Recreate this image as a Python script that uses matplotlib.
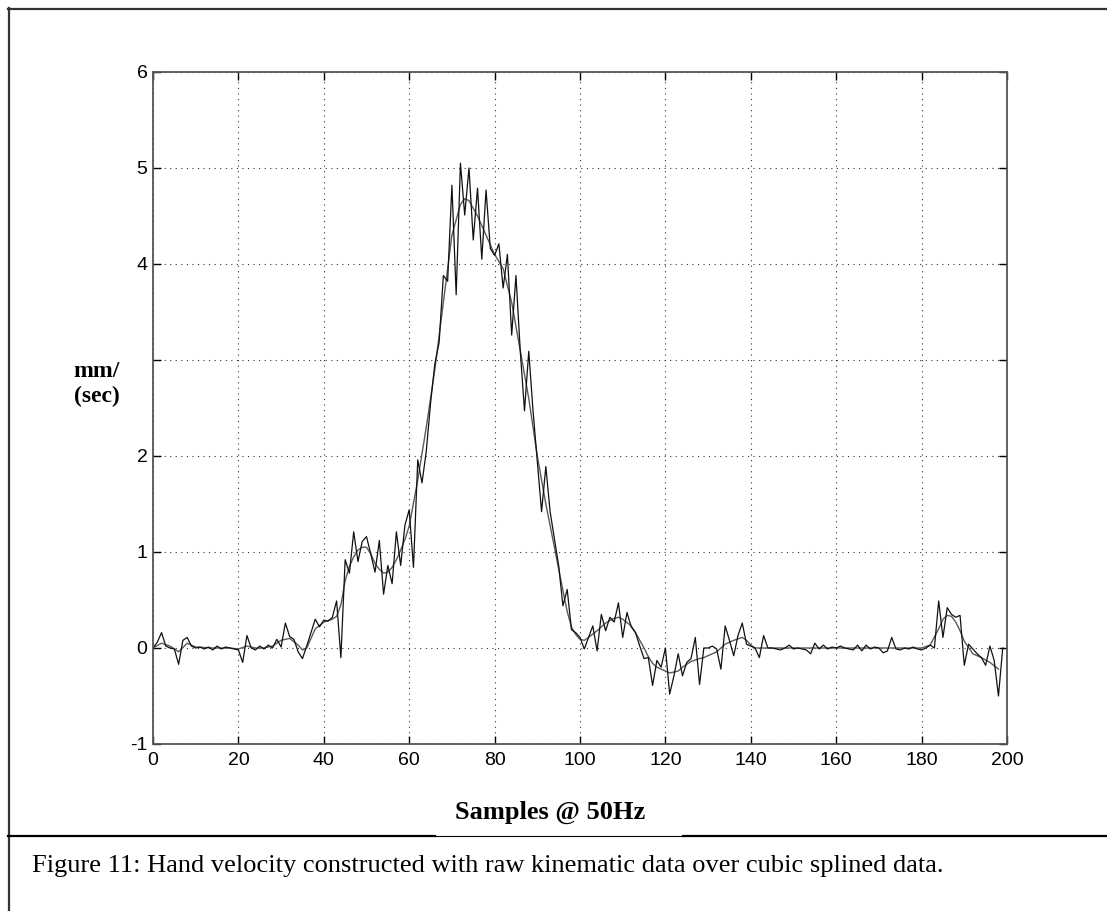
import numpy as np
import matplotlib
matplotlib.use("Agg")
import matplotlib.pyplot as plt
from matplotlib.lines import Line2D

# raw hand velocity, one value per sample (mm/sec)
raw_vel = [
    0.00, 0.06, 0.16, 0.02, 0.00, -0.01, -0.17, 0.08, 0.11, 0.02,
    0.00, 0.01, -0.01, 0.01, -0.02, 0.02, -0.01, 0.01, 0.00, -0.01,
    -0.02, -0.15, 0.13, 0.00, -0.02, 0.02, -0.01, 0.03, 0.00, 0.09,
    0.01, 0.26, 0.12, 0.09, -0.04, -0.11, 0.02, 0.16, 0.30, 0.22,
    0.29, 0.28, 0.32, 0.49, -0.10, 0.92, 0.78, 1.21, 0.90, 1.11,
    1.16, 0.98, 0.79, 1.12, 0.56, 0.86, 0.67, 1.21, 0.86, 1.28,
    1.44, 0.84, 1.96, 1.72, 2.05, 2.55, 2.96, 3.18, 3.88, 3.82,
    4.82, 3.68, 5.05, 4.51, 5.00, 4.25, 4.79, 4.05, 4.77, 4.16,
    4.09, 4.21, 3.75, 4.10, 3.26, 3.88, 3.10, 2.47, 3.09, 2.47,
    1.95, 1.42, 1.89, 1.42, 1.14, 0.86, 0.44, 0.61, 0.19, 0.16,
    0.11, -0.01, 0.11, 0.23, -0.03, 0.35, 0.18, 0.32, 0.27, 0.47,
    0.11, 0.37, 0.22, 0.16, 0.02, -0.11, -0.10, -0.39, -0.13, -0.20,
    0.00, -0.48, -0.29, -0.06, -0.29, -0.15, -0.11, 0.11, -0.38, 0.00,
    0.00, 0.02, -0.01, -0.22, 0.23, 0.08, -0.08, 0.13, 0.26, 0.04,
    0.02, 0.00, -0.10, 0.13, 0.00, 0.00, -0.01, -0.02, 0.00, 0.03,
    -0.01, 0.00, -0.01, -0.02, -0.06, 0.05, -0.01, 0.03, -0.01, 0.01,
    0.00, 0.02, 0.00, -0.01, -0.02, 0.03, -0.03, 0.03, -0.01, 0.01,
    0.00, -0.05, -0.03, 0.11, -0.01, -0.02, 0.00, -0.01, 0.01, -0.01,
    -0.02, 0.00, 0.03, 0.00, 0.49, 0.11, 0.42, 0.35, 0.32, 0.34,
    -0.18, 0.04, -0.01, -0.06, -0.10, -0.18, 0.02, -0.13, -0.50, 0.00,
]
raw_x = np.arange(len(raw_vel))

# cubic splined curve
spline_x = [0, 2, 4, 6, 8, 10, 14, 18, 20, 22, 24, 26, 28, 30, 32, 34, 35, 36,
            38, 40, 42, 43, 44, 45, 46, 47, 48, 49, 50, 51, 52, 53, 54, 55, 56,
            57, 58, 59, 60, 62, 64, 66, 68, 70, 72, 73, 74, 76, 78, 80, 82, 84,
            86, 88, 90, 92, 94, 96, 97, 98, 99, 100, 101, 102, 104, 106, 108,
            109, 110, 112, 113, 114, 115, 116, 117, 118, 120, 121, 122, 123,
            124, 126, 128, 129, 130, 132, 134, 136, 138, 139, 140, 141, 142,
            144, 150, 160, 170, 180, 182, 184, 185, 186, 187, 188, 189, 190,
            192, 194, 196, 198]
spline_vel = [0.0, 0.05, 0.02, -0.04, 0.05, 0.01, 0.0, 0.0, -0.01, 0.02, 0.0,
              0.0, 0.02, 0.08, 0.1, 0.03, -0.02, 0.0, 0.2, 0.27, 0.3, 0.33,
              0.45, 0.7, 0.85, 0.95, 1.02, 1.05, 1.05, 0.98, 0.88, 0.82, 0.78,
              0.79, 0.84, 0.92, 1.02, 1.13, 1.27, 1.75, 2.3, 2.9, 3.6, 4.3,
              4.62, 4.68, 4.66, 4.5, 4.3, 4.1, 3.95, 3.6, 3.1, 2.6, 2.0, 1.5,
              1.05, 0.6, 0.38, 0.22, 0.14, 0.09, 0.08, 0.11, 0.18, 0.26, 0.31,
              0.32, 0.3, 0.23, 0.16, 0.08, 0.0, -0.09, -0.16, -0.2, -0.24,
              -0.26, -0.25, -0.24, -0.2, -0.14, -0.11, -0.1, -0.08, -0.04,
              0.04, 0.08, 0.11, 0.08, 0.03, 0.0, 0.0, 0.0, 0.0, 0.0, 0.0, 0.0,
              0.03, 0.2, 0.3, 0.34, 0.33, 0.27, 0.18, 0.07, -0.06, -0.1,
              -0.15, -0.22]

x_ticks = [0, 20, 40, 60, 80, 100, 120, 140, 160, 180, 200]
y_ticks = [-1, 0, 1, 2, 3, 4, 5, 6]
y_ticklabels = ['-1', '0', '1', '2', '', '4', '5', '6']

W, H = 1107, 911
fig = plt.figure(figsize=(W / 100, H / 100), dpi=100)

ax = fig.add_axes([153 / W, 1 - 744 / H, 854 / W, 672 / H])
ax.plot(spline_x, spline_vel, color='#5a5a5a', lw=1.0)
ax.plot(raw_x, raw_vel, color='#111111', lw=0.9)

ax.set_xlim(0, 200)
ax.set_ylim(-1, 6)
ax.set_xticks(x_ticks)
ax.set_yticks(y_ticks)
ax.set_yticklabels(y_ticklabels)
ax.grid(True, color='#333333', linestyle=(0, (1, 4)), linewidth=0.8)
ax.tick_params(direction='in', length=6, width=1, top=True, right=True,
               labelsize=14, pad=6, colors='black')
for lab in ax.get_xticklabels() + ax.get_yticklabels():
    lab.set_fontfamily('Liberation Sans')
ax.tick_params(axis='y', pad=4)
for sp in ax.spines.values():
    sp.set_color('#555555')
    sp.set_linewidth(1.3)

# axis labels in bold serif, as in the original figure
fig.text(97 / W, 1 - 384 / H, 'mm/\n(sec)', ha='center', va='center',
         family='Liberation Serif', weight='bold', fontsize=17, linespacing=1.25)
fig.text(550 / W, 1 - 812 / H, 'Samples @ 50Hz', ha='center', va='center',
         family='Liberation Serif', weight='bold', fontsize=19)

# caption
fig.text(32 / W, 1 - 866 / H, 'Figure 11: Hand velocity constructed with raw '
         'kinematic data over cubic splined data.', ha='left', va='center',
         family='Liberation Serif', fontsize=19)

# frame around the figure
def fline(x0, x1, y0, y1, lw, color='black'):
    fig.add_artist(Line2D([x0 / W, x1 / W], [1 - y0 / H, 1 - y1 / H],
                          transform=fig.transFigure, lw=lw, color=color))

fline(9, 9, 8, 911, 1.6, '#333333')
fline(8, 1107, 9, 9, 1.6, '#333333')
fline(8, 435, 836, 836, 1.6)
fline(435, 683, 836, 836, 0.8)
fline(683, 1107, 836, 836, 1.6)

fig.savefig('out.png', dpi=100)
